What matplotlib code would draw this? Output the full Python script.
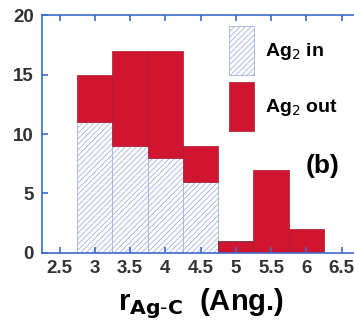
import numpy as np
import matplotlib
matplotlib.use("Agg")
from matplotlib import pyplot as plt

# histogram bins (Ang.) and counts
bin_centers = [3.0, 3.5, 4.0, 4.5, 5.0, 5.5, 6.0]
ag2_in = [11, 9, 8, 6, 0, 0, 0]
ag2_out = [4, 8, 9, 3, 1, 7, 2]
xticks = [2.5, 3, 3.5, 4, 4.5, 5, 5.5, 6, 6.5]
yticks = [0, 5, 10, 15, 20]

blue = "#3a6cc8"
red = "#cf1530"
hatch_col = "#a4b1e0"
txt = "#333333"

plt.rcParams["hatch.linewidth"] = 0.6
plt.rcParams["font.family"] = ["Liberation Sans", "DejaVu Sans"]

fig = plt.figure(figsize=(3.54, 3.21), dpi=100)
ax = fig.add_axes([0.1186, 0.212, 0.896, 0.741])

red_edges = ["#a8182c"] * len(bin_centers)
red_edges[4] = "#3a2a2a"
ax.bar(bin_centers, ag2_in, width=0.5, color="white", edgecolor=hatch_col,
       hatch="//////", linewidth=0.6, label="Ag$_2$ in")
ax.bar(bin_centers, ag2_out, width=0.5, bottom=ag2_in, color=red,
       edgecolor=red_edges, linewidth=0.5, label="Ag$_2$ out")

ax.set_xlim(2.25, 6.75)
ax.set_ylim(0, 20)
ax.set_xticks(xticks)
ax.set_xticklabels([f"{t:g}" for t in xticks])
ax.set_yticks(yticks)

for s in ["left", "bottom", "top"]:
    ax.spines[s].set_color(blue)
    ax.spines[s].set_linewidth(1.2)
ax.spines["right"].set_visible(False)
ax.tick_params(direction="in", color=blue, width=1.2, length=4,
               labelsize=13.5, labelcolor=txt, top=True)
ax.tick_params(axis="x", pad=5)
ax.tick_params(axis="y", pad=6)
for lab in ax.get_xticklabels() + ax.get_yticklabels():
    lab.set_fontweight("bold")

ax.set_xlabel("r$_{\\mathbf{Ag\\text{-}C}}$  (Ang.)", fontsize=21,
              fontweight="bold", color="black", labelpad=6.5)

leg = ax.legend(loc="upper left", bbox_to_anchor=(0.56, 0.993), frameon=False,
                borderpad=0, handlelength=1.25, handleheight=3.5,
                labelspacing=0.36, handletextpad=0.6,
                prop={"weight": "bold", "size": 14})

ax.text(0.83, 0.337, "(b)", transform=ax.transAxes, fontsize=19,
        fontweight="bold", color="black")

fig.savefig("out.png", dpi=100)
